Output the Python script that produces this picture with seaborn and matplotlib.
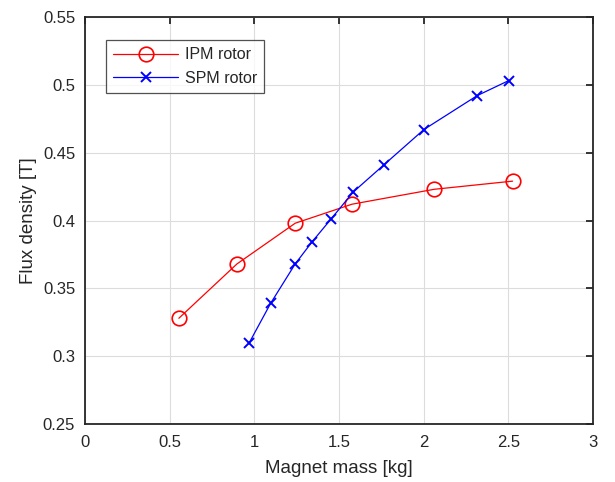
import numpy as np
import pandas as pd
import matplotlib
matplotlib.use('Agg')
import matplotlib.pyplot as plt
import seaborn as sns

# Data
ipm_mass = [0.555, 0.898, 1.242, 1.577, 2.063, 2.526]
ipm_flux = [0.328, 0.368, 0.398, 0.412, 0.423, 0.429]
spm_mass = [0.971, 1.097, 1.242, 1.340, 1.453, 1.585, 1.766, 2.002, 2.317, 2.502]
spm_flux = [0.310, 0.339, 0.368, 0.384, 0.401, 0.421, 0.441, 0.467, 0.492, 0.503]
x_ticks = [0, 0.5, 1, 1.5, 2, 2.5, 3]
y_ticks = [0.25, 0.3, 0.35, 0.4, 0.45, 0.5, 0.55]
y_labels = ['0.25', '0.3', '0.35', '0.4', '0.45', '0.5', '0.55']

sns.set_style('white')
plt.rcParams['font.family'] = ['Liberation Sans', 'DejaVu Sans']

fig = plt.figure(figsize=(6.15, 4.82), dpi=100)
ax = fig.add_axes([0.138, 0.120, 0.826, 0.845])

ipm_df = pd.DataFrame({'mass': ipm_mass, 'flux': ipm_flux})
spm_df = pd.DataFrame({'mass': spm_mass, 'flux': spm_flux})

sns.lineplot(data=ipm_df, x='mass', y='flux', sort=False, ax=ax, color='red',
             lw=0.9, marker='o', markersize=10.5, mfc='none', mec='red', mew=1.2,
             label='IPM rotor')
sns.lineplot(data=spm_df, x='mass', y='flux', sort=False, ax=ax, color='blue',
             lw=0.9, marker='x', markersize=7.5, mec='blue', mew=1.4,
             label='SPM rotor')

ax.set_xlim(0, 3)
ax.set_ylim(0.25, 0.55)
ax.set_xticks(x_ticks)
ax.set_xticklabels([f'{t:g}' for t in x_ticks])
ax.set_yticks(y_ticks)
ax.set_yticklabels(y_labels)
ax.grid(True, color='#dcdcdc', lw=0.8)
ax.set_axisbelow(True)

for s in ax.spines.values():
    s.set_color('#262626')
    s.set_linewidth(1.3)
ax.tick_params(direction='in', length=5, width=1.3, color='#262626',
               top=True, right=True, labelsize=12, labelcolor='#262626', pad=8)
ax.tick_params(axis='y', pad=7)

ax.set_xlabel('Magnet mass [kg]', fontsize=13.5, color='#262626', labelpad=7)
ax.set_ylabel('Flux density [T]', fontsize=13.5, color='#262626', labelpad=4)

leg = ax.legend(loc='upper left', bbox_to_anchor=(0.041, 0.943), borderaxespad=0,
                fontsize=11.5, frameon=True, fancybox=False, edgecolor='#262626',
                handlelength=4.1, handletextpad=0.4, borderpad=0.45, labelspacing=0.55)
leg.get_frame().set_linewidth(0.9)

fig.savefig('out.png', dpi=100)
